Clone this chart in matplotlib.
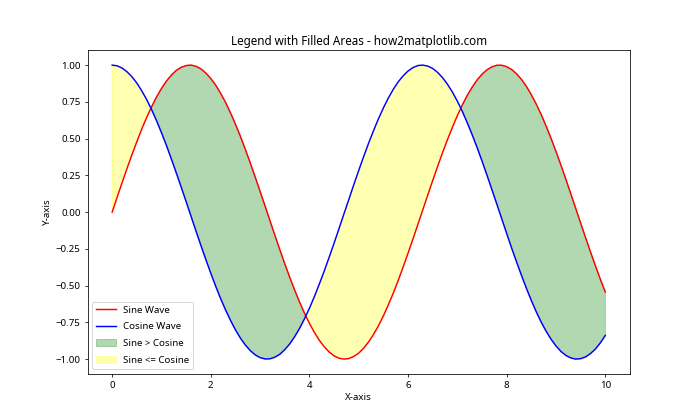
import matplotlib
matplotlib.use("Agg")
import matplotlib.pyplot as plt
import numpy as np

plt.rcParams['font.family'] = ['Noto Sans', 'DejaVu Sans']

x = [0.0, 0.1, 0.2, 0.3, 0.4, 0.5, 0.6, 0.7, 0.8, 0.9,
     1.0, 1.1, 1.2, 1.3, 1.4, 1.5, 1.6, 1.7, 1.8, 1.9,
     2.0, 2.1, 2.2, 2.3, 2.4, 2.5, 2.6, 2.7, 2.8, 2.9,
     3.0, 3.1, 3.2, 3.3, 3.4, 3.5, 3.6, 3.7, 3.8, 3.9,
     4.0, 4.1, 4.2, 4.3, 4.4, 4.5, 4.6, 4.7, 4.8, 4.9,
     5.0, 5.1, 5.2, 5.3, 5.4, 5.5, 5.6, 5.7, 5.8, 5.9,
     6.0, 6.1, 6.2, 6.3, 6.4, 6.5, 6.6, 6.7, 6.8, 6.9,
     7.0, 7.1, 7.2, 7.3, 7.4, 7.5, 7.6, 7.7, 7.8, 7.9,
     8.0, 8.1, 8.2, 8.3, 8.4, 8.5, 8.6, 8.7, 8.8, 8.9,
     9.0, 9.1, 9.2, 9.3, 9.4, 9.5, 9.6, 9.7, 9.8, 9.9, 10.0]
sine = [0.000, 0.100, 0.199, 0.296, 0.389, 0.479, 0.565, 0.644, 0.717, 0.783,
        0.841, 0.891, 0.932, 0.964, 0.985, 0.997, 1.000, 0.992, 0.974, 0.946,
        0.909, 0.863, 0.808, 0.746, 0.675, 0.598, 0.516, 0.427, 0.335, 0.239,
        0.141, 0.042, -0.058, -0.158, -0.256, -0.351, -0.443, -0.530, -0.612, -0.688,
        -0.757, -0.818, -0.872, -0.916, -0.952, -0.978, -0.994, -1.000, -0.996, -0.982,
        -0.959, -0.926, -0.883, -0.832, -0.773, -0.706, -0.631, -0.551, -0.465, -0.374,
        -0.279, -0.182, -0.083, 0.017, 0.117, 0.215, 0.312, 0.405, 0.494, 0.578,
        0.657, 0.729, 0.794, 0.850, 0.899, 0.938, 0.968, 0.988, 0.999, 0.999,
        0.989, 0.970, 0.941, 0.902, 0.855, 0.798, 0.734, 0.663, 0.585, 0.501,
        0.412, 0.319, 0.223, 0.124, 0.025, -0.075, -0.174, -0.272, -0.366, -0.458, -0.544]
cosine = [1.000, 0.995, 0.980, 0.955, 0.921, 0.878, 0.825, 0.765, 0.697, 0.622,
          0.540, 0.454, 0.362, 0.267, 0.170, 0.071, -0.029, -0.129, -0.227, -0.323,
          -0.416, -0.505, -0.589, -0.666, -0.737, -0.801, -0.857, -0.904, -0.942, -0.971,
          -0.990, -0.999, -0.998, -0.987, -0.967, -0.936, -0.897, -0.848, -0.791, -0.726,
          -0.654, -0.575, -0.490, -0.401, -0.307, -0.211, -0.112, -0.012, 0.087, 0.187,
          0.284, 0.378, 0.469, 0.554, 0.635, 0.709, 0.776, 0.835, 0.886, 0.927,
          0.960, 0.983, 0.997, 1.000, 0.993, 0.977, 0.950, 0.914, 0.869, 0.816,
          0.754, 0.685, 0.608, 0.526, 0.439, 0.347, 0.251, 0.153, 0.054, -0.046,
          -0.146, -0.245, -0.339, -0.431, -0.519, -0.602, -0.679, -0.749, -0.811, -0.865,
          -0.911, -0.948, -0.975, -0.992, -1.000, -0.997, -0.985, -0.962, -0.931, -0.889, -0.839]

xs = np.array(x)
s = np.array(sine)
c = np.array(cosine)

fig, ax = plt.subplots(figsize=(10, 6), dpi=70)
ax.plot(xs, s, color='red', label='Sine Wave')
ax.plot(xs, c, color='blue', label='Cosine Wave')
ax.fill_between(xs, s, c, where=(s > c), interpolate=True,
                color='green', alpha=0.3, label='Sine > Cosine')
ax.fill_between(xs, s, c, where=(s <= c), interpolate=True,
                color='yellow', alpha=0.3, label='Sine <= Cosine')
ax.set_title('Legend with Filled Areas - how2matplotlib.com')
ax.set_xlabel('X-axis')
ax.set_ylabel('Y-axis')
ax.legend(loc='lower left', labelspacing=0.8)

plt.savefig('out.png')
